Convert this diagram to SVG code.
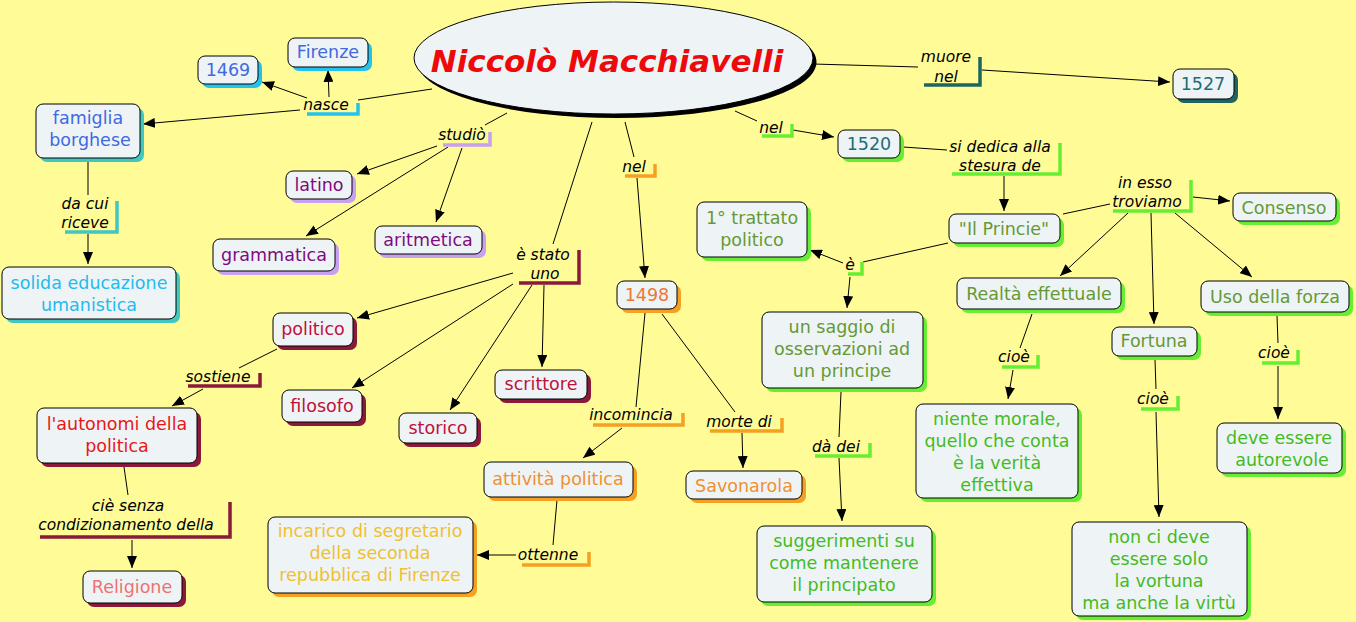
<svg xmlns="http://www.w3.org/2000/svg" width="1356" height="622" viewBox="0 0 1356 622">
<defs>
<marker id="ah" markerUnits="userSpaceOnUse" markerWidth="12" markerHeight="10" refX="12" refY="5" orient="auto"><path d="M0,0 L12,5 L0,10 z" fill="#000"/></marker>
<style>
.n{fill:#eef4f6;stroke:#000;stroke-width:1}
.t{font-family:"DejaVu Sans",Verdana,sans-serif;font-size:17.5px;text-anchor:middle}
.l{font-family:"DejaVu Sans",Verdana,sans-serif;font-size:15.5px;font-style:italic;text-anchor:middle;fill:#000}
.c line,.c path{stroke:#000;stroke-width:1;fill:none}
.a{marker-end:url(#ah)}
.b{fill:none;stroke-width:3.5}
.cy{fill:#22c4ee}.tq{fill:#40c8c0}.lv{fill:#c8a0f0}.dr{fill:#8b1a3a}.or{fill:#f5a020}.gr{fill:#66ee33}.dt{fill:#1d6560}
</style>
</defs>
<rect width="1356" height="622" fill="#fffb96"/>

<g id="connectors" class="c">
<line x1="432" y1="89" x2="358" y2="100"/>
<line class="a" x1="300" y1="110" x2="143" y2="124"/>
<line class="a" x1="307" y1="98" x2="262" y2="82"/>
<line class="a" x1="329" y1="97" x2="328" y2="70"/>
<line x1="88" y1="162" x2="88" y2="195"/>
<line class="a" x1="88" y1="234" x2="88" y2="264"/>
<line x1="507" y1="113" x2="485" y2="125"/>
<line class="a" x1="437" y1="146" x2="357" y2="174"/>
<line class="a" x1="448" y1="147" x2="306" y2="236"/>
<line class="a" x1="462" y1="148" x2="436" y2="222"/>
<line x1="592" y1="122" x2="553" y2="244"/>
<line class="a" x1="513" y1="273" x2="357" y2="318"/>
<line class="a" x1="513" y1="284" x2="352" y2="388"/>
<line class="a" x1="532" y1="285" x2="450" y2="410"/>
<line class="a" x1="544" y1="285" x2="542" y2="367"/>
<line x1="625" y1="122" x2="634" y2="157"/>
<line class="a" x1="637" y1="178" x2="645" y2="278"/>
<line x1="735" y1="111" x2="757" y2="121"/>
<line class="a" x1="793" y1="130" x2="834" y2="137"/>
<line x1="813" y1="64" x2="918" y2="67"/>
<line class="a" x1="982" y1="70" x2="1170" y2="82"/>
<line x1="903" y1="147" x2="947" y2="150"/>
<line class="a" x1="1004" y1="176" x2="1004" y2="211"/>
<line x1="1063" y1="214" x2="1110" y2="204"/>
<line class="a" x1="1193" y1="197" x2="1230" y2="201"/>
<line class="a" x1="1128" y1="213" x2="1060" y2="276"/>
<line class="a" x1="1151" y1="213" x2="1154" y2="324"/>
<line class="a" x1="1175" y1="213" x2="1252" y2="277"/>
<line x1="948" y1="243" x2="863" y2="262"/>
<line class="a" x1="843" y1="263" x2="810" y2="250"/>
<line class="a" x1="850" y1="277" x2="847" y2="308"/>
<line x1="277" y1="349" x2="239" y2="368"/>
<line class="a" x1="203" y1="389" x2="172" y2="406"/>
<line x1="124" y1="467" x2="128" y2="495"/>
<line class="a" x1="132" y1="540" x2="132" y2="568"/>
<line x1="645" y1="313" x2="636" y2="407"/>
<line class="a" x1="622" y1="428" x2="583" y2="458"/>
<line x1="662" y1="314" x2="735" y2="412"/>
<line class="a" x1="742" y1="433" x2="743" y2="468"/>
<line x1="557" y1="500" x2="553" y2="545"/>
<line class="a" x1="516" y1="555" x2="477" y2="555"/>
<line x1="841" y1="392" x2="839" y2="437"/>
<line class="a" x1="839" y1="458" x2="842" y2="521"/>
<line x1="1032" y1="314" x2="1020" y2="348"/>
<line class="a" x1="1013" y1="370" x2="1008" y2="399"/>
<line x1="1155" y1="360" x2="1156" y2="389"/>
<line class="a" x1="1156" y1="412" x2="1159" y2="517"/>
<line x1="1277" y1="316" x2="1278" y2="343"/>
<line class="a" x1="1278" y1="366" x2="1278" y2="419"/>
</g>

<g id="labels">
<g id="lbl-nasce"><path class="b" d="M307,114 H358 V103" stroke="#22c4ee"/><text class="l" x="326" y="110">nasce</text></g>
<g id="lbl-dacui"><path class="b" d="M65,232 H117 V201" stroke="#40c8c0"/><text class="l" x="85" y="209">da cui</text><text class="l" x="85" y="228">riceve</text></g>
<g id="lbl-studio"><path class="b" d="M443,145 H490 V132" stroke="#c8a0f0"/><text class="l" x="462" y="140">studiò</text></g>
<g id="lbl-estato"><path class="b" d="M519,283 H579 V250" stroke="#8b1a3a"/><text class="l" x="543" y="260">è stato</text><text class="l" x="545" y="279">uno</text></g>
<g id="lbl-nel1"><path class="b" d="M625,176 H655 V164" stroke="#f5a020"/><text class="l" x="634" y="172">nel</text></g>
<g id="lbl-nel2"><path class="b" d="M762,136 H792 V124" stroke="#66ee33"/><text class="l" x="771" y="133">nel</text></g>
<g id="lbl-muore"><path class="b" d="M924,85 H980 V57" stroke="#1d6560"/><text class="l" x="946" y="62">muore</text><text class="l" x="946" y="82">nel</text></g>
<g id="lbl-sidedica"><path class="b" d="M952,174 H1060 V143" stroke="#66ee33"/><text class="l" x="1000" y="152">si dedica alla</text><text class="l" x="1000" y="171">stesura de</text></g>
<g id="lbl-inesso"><path class="b" d="M1113,211 H1191 V180" stroke="#66ee33"/><text class="l" x="1145" y="188">in esso</text><text class="l" x="1147" y="207">troviamo</text></g>
<g id="lbl-e"><path class="b" d="M848,274 H862 V262" stroke="#66ee33"/><text class="l" x="850" y="270">è</text></g>
<g id="lbl-sostiene"><path class="b" d="M188,386 H260 V373" stroke="#8b1a3a"/><text class="l" x="218" y="382">sostiene</text></g>
<g id="lbl-cie"><path class="b" d="M40,537 H230 V502" stroke="#8b1a3a"/><text class="l" x="128" y="511">ciè senza</text><text class="l" x="126" y="530">condizionamento della</text></g>
<g id="lbl-incomincia"><path class="b" d="M593,425 H683 V413" stroke="#f5a020"/><text class="l" x="631" y="420">incomincia</text></g>
<g id="lbl-morte"><path class="b" d="M710,431 H782 V418" stroke="#f5a020"/><text class="l" x="739" y="427">morte di</text></g>
<g id="lbl-ottenne"><path class="b" d="M522,565 H589 V552" stroke="#f5a020"/><text class="l" x="548" y="560">ottenne</text></g>
<g id="lbl-dadei"><path class="b" d="M815,456 H870 V443" stroke="#66ee33"/><text class="l" x="836" y="452">dà dei</text></g>
<g id="lbl-cioe1"><path class="b" d="M1002,367 H1038 V355" stroke="#66ee33"/><text class="l" x="1014" y="362">cioè</text></g>
<g id="lbl-cioe2"><path class="b" d="M1141,409 H1178 V396" stroke="#66ee33"/><text class="l" x="1153" y="404">cioè</text></g>
<g id="lbl-cioe3"><path class="b" d="M1262,363 H1298 V350" stroke="#66ee33"/><text class="l" x="1274" y="358">cioè</text></g>
</g>

<g id="main">
<ellipse cx="617" cy="62" rx="199.5" ry="56" fill="#000"/>
<ellipse cx="613.5" cy="58" rx="199.5" ry="56" fill="#eef4f6" stroke="#000" stroke-width="1"/>
<text x="607" y="72" font-family="'DejaVu Sans',Verdana,sans-serif" font-size="31" font-weight="bold" font-style="italic" text-anchor="middle" fill="#ee0a0a">Niccolò Macchiavelli</text>
</g>

<g id="firenze"><rect class="cy" x="292" y="42" width="80" height="29" rx="7"/><rect class="n" x="288" y="38" width="80" height="29" rx="7"/><text class="t" x="328" y="58" fill="#4169e1">Firenze</text></g>
<g id="n1469"><rect class="cy" x="202" y="60" width="60" height="28" rx="7"/><rect class="n" x="198" y="56" width="60" height="28" rx="7"/><text class="t" x="228" y="76" fill="#4169e1">1469</text></g>
<g id="famiglia"><rect class="tq" x="40" y="108" width="104" height="54" rx="7"/><rect class="n" x="36" y="104" width="104" height="54" rx="7"/><text class="t" x="88" y="124" fill="#4169e1">famiglia</text><text class="t" x="90" y="146" fill="#4169e1">borghese</text></g>
<g id="solida"><rect class="tq" x="6" y="271" width="174" height="52" rx="7"/><rect class="n" x="2" y="267" width="174" height="52" rx="7"/><text class="t" x="89" y="289" fill="#22bbee">solida educazione</text><text class="t" x="89" y="311" fill="#22bbee">umanistica</text></g>
<g id="latino"><rect class="lv" x="290" y="175" width="66" height="28" rx="7"/><rect class="n" x="286" y="171" width="66" height="28" rx="7"/><text class="t" x="319" y="191" fill="#800a80">latino</text></g>
<g id="grammatica"><rect class="lv" x="217" y="243" width="122" height="32" rx="7"/><rect class="n" x="213" y="239" width="122" height="32" rx="7"/><text class="t" x="274" y="261" fill="#800a80">grammatica</text></g>
<g id="aritmetica"><rect class="lv" x="379" y="230" width="107" height="28" rx="7"/><rect class="n" x="375" y="226" width="107" height="28" rx="7"/><text class="t" x="428" y="246" fill="#800a80">aritmetica</text></g>
<g id="politico"><rect class="dr" x="277" y="317" width="80" height="33" rx="7"/><rect class="n" x="273" y="313" width="80" height="33" rx="7"/><text class="t" x="313" y="335" fill="#c0103c">politico</text></g>
<g id="filosofo"><rect class="dr" x="286" y="394" width="80" height="32" rx="7"/><rect class="n" x="282" y="390" width="80" height="32" rx="7"/><text class="t" x="322" y="412" fill="#c0103c">filosofo</text></g>
<g id="storico"><rect class="dr" x="403" y="417" width="78" height="30" rx="7"/><rect class="n" x="399" y="413" width="78" height="30" rx="7"/><text class="t" x="438" y="434" fill="#c0103c">storico</text></g>
<g id="scrittore"><rect class="dr" x="499" y="374" width="92" height="29" rx="7"/><rect class="n" x="495" y="370" width="92" height="29" rx="7"/><text class="t" x="541" y="390" fill="#c0103c">scrittore</text></g>
<g id="autonomi"><rect class="dr" x="41" y="412" width="160" height="55" rx="7"/><rect class="n" x="37" y="408" width="160" height="55" rx="7"/><text class="t" x="117" y="430" fill="#e81818">l'autonomi della</text><text class="t" x="117" y="452" fill="#e81818">politica</text></g>
<g id="religione"><rect class="dr" x="87" y="575" width="99" height="32" rx="7"/><rect class="n" x="83" y="571" width="99" height="32" rx="7"/><text class="t" x="132" y="593" fill="#f07070">Religione</text></g>
<g id="incarico"><rect class="or" x="272" y="521" width="205" height="76" rx="7"/><rect class="n" x="268" y="517" width="205" height="76" rx="7"/><text class="t" x="370" y="537" fill="#f0c030">incarico di segretario</text><text class="t" x="370" y="559" fill="#f0c030">della seconda</text><text class="t" x="370" y="581" fill="#f0c030">repubblica di Firenze</text></g>
<g id="n1498"><rect class="or" x="621" y="285" width="60" height="28" rx="7"/><rect class="n" x="617" y="281" width="60" height="28" rx="7"/><text class="t" x="647" y="301" fill="#ee7733">1498</text></g>
<g id="attivita"><rect class="or" x="488" y="466" width="149" height="35" rx="7"/><rect class="n" x="484" y="462" width="149" height="35" rx="7"/><text class="t" x="558" y="485" fill="#f09030">attività politica</text></g>
<g id="savonarola"><rect class="or" x="690" y="475" width="116" height="28" rx="7"/><rect class="n" x="686" y="471" width="116" height="28" rx="7"/><text class="t" x="744" y="492" fill="#f09030">Savonarola</text></g>
<g id="saggio"><rect class="gr" x="766" y="316" width="161" height="76" rx="7"/><rect class="n" x="762" y="312" width="161" height="76" rx="7"/><text class="t" x="842" y="333" fill="#669933">un saggio di</text><text class="t" x="842" y="355" fill="#669933">osservazioni ad</text><text class="t" x="842" y="377" fill="#669933">un principe</text></g>
<g id="suggerimenti"><rect class="gr" x="761" y="530" width="175" height="76" rx="7"/><rect class="n" x="757" y="526" width="175" height="76" rx="7"/><text class="t" x="844" y="547" fill="#44bb22">suggerimenti su</text><text class="t" x="844" y="569" fill="#44bb22">come mantenere</text><text class="t" x="844" y="591" fill="#44bb22">il principato</text></g>
<g id="trattato"><rect class="gr" x="701" y="206" width="110" height="55" rx="7"/><rect class="n" x="697" y="202" width="110" height="55" rx="7"/><text class="t" x="752" y="224" fill="#669933">1° trattato</text><text class="t" x="752" y="246" fill="#669933">politico</text></g>
<g id="n1520"><rect class="gr" x="842" y="134" width="62" height="28" rx="7"/><rect class="n" x="838" y="130" width="62" height="28" rx="7"/><text class="t" x="869" y="150" fill="#1e6e78">1520</text></g>
<g id="n1527"><rect class="dt" x="1177" y="73" width="61" height="30" rx="7"/><rect class="n" x="1173" y="69" width="61" height="30" rx="7"/><text class="t" x="1203" y="90" fill="#1e6e78">1527</text></g>
<g id="princie"><rect class="gr" x="953" y="218" width="111" height="29" rx="7"/><rect class="n" x="949" y="214" width="111" height="29" rx="7"/><text class="t" x="1004" y="235" fill="#669933">"Il Princie"</text></g>
<g id="consenso"><rect class="gr" x="1237" y="197" width="103" height="28" rx="7"/><rect class="n" x="1233" y="193" width="103" height="28" rx="7"/><text class="t" x="1284" y="214" fill="#669933">Consenso</text></g>
<g id="realta"><rect class="gr" x="961" y="282" width="164" height="31" rx="7"/><rect class="n" x="957" y="278" width="164" height="31" rx="7"/><text class="t" x="1039" y="300" fill="#669933">Realtà effettuale</text></g>
<g id="uso"><rect class="gr" x="1205" y="285" width="148" height="31" rx="7"/><rect class="n" x="1201" y="281" width="148" height="31" rx="7"/><text class="t" x="1275" y="303" fill="#669933">Uso della forza</text></g>
<g id="fortuna"><rect class="gr" x="1116" y="331" width="85" height="29" rx="7"/><rect class="n" x="1112" y="327" width="85" height="29" rx="7"/><text class="t" x="1154" y="347" fill="#669933">Fortuna</text></g>
<g id="niente"><rect class="gr" x="920" y="408" width="162" height="94" rx="7"/><rect class="n" x="916" y="404" width="162" height="94" rx="7"/><text class="t" x="997" y="425" fill="#44bb22">niente morale,</text><text class="t" x="997" y="447" fill="#44bb22">quello che conta</text><text class="t" x="997" y="469" fill="#44bb22">è la verità</text><text class="t" x="997" y="491" fill="#44bb22">effettiva</text></g>
<g id="nonci"><rect class="gr" x="1076" y="526" width="175" height="94" rx="7"/><rect class="n" x="1072" y="522" width="175" height="94" rx="7"/><text class="t" x="1159" y="543" fill="#44bb22">non ci deve</text><text class="t" x="1159" y="565" fill="#44bb22">essere solo</text><text class="t" x="1159" y="587" fill="#44bb22">la vortuna</text><text class="t" x="1159" y="609" fill="#44bb22">ma anche la virtù</text></g>
<g id="deve"><rect class="gr" x="1221" y="427" width="125" height="50" rx="7"/><rect class="n" x="1217" y="423" width="125" height="50" rx="7"/><text class="t" x="1279" y="444" fill="#44bb22">deve essere</text><text class="t" x="1282" y="466" fill="#44bb22">autorevole</text></g>
</svg>
